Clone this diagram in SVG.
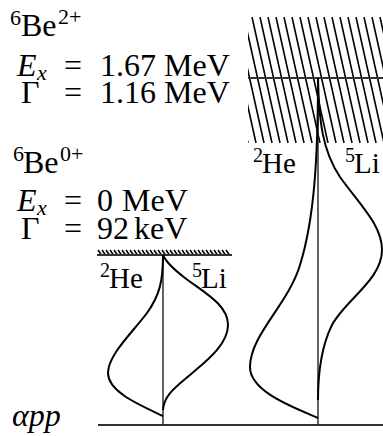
<svg xmlns="http://www.w3.org/2000/svg" width="383" height="436" viewBox="0 0 383 436">
<style>
text{font-family:"Liberation Serif","Times New Roman",serif;fill:#000}
.m{font-size:32px}
.s{font-size:22px}
.i{font-style:italic}
.lb{font-size:29px}
.ls{font-size:20px}
.curve{fill:none;stroke:#000;stroke-width:2}
.vert{fill:none;stroke:#222;stroke-width:1.4}
.hatch{fill:none;stroke:#000;stroke-width:1.6}
.base{fill:none;stroke:#333;stroke-width:2}
</style>
<defs>
<clipPath id="bigclip"><rect x="248" y="17" width="135" height="126"/></clipPath>
</defs>
<g id="text-be2plus">
<text class="s" x="10" y="25">6</text><text class="m" x="21" y="36">Be</text><text class="s" x="58" y="24">2+</text>
<text class="m i" x="17" y="76">E</text><text class="s i" x="37" y="80">x</text><text class="m" x="64" y="76">=</text><text class="m" x="100" y="76">1.67</text><text class="m" x="164" y="76">MeV</text>
<text class="m" x="21" y="103">Γ</text><text class="m" x="64" y="103">=</text><text class="m" x="100" y="103">1.16</text><text class="m" x="164" y="103">MeV</text>
</g>
<g id="text-be0plus">
<text class="s" x="13" y="161">6</text><text class="m" x="23" y="173">Be</text><text class="s" x="60" y="161">0+</text>
<text class="m i" x="17" y="211">E</text><text class="s i" x="37" y="215">x</text><text class="m" x="64" y="211">=</text><text class="m" x="97" y="211">0</text><text class="m" x="122" y="211">MeV</text>
<text class="m" x="21" y="239">Γ</text><text class="m" x="64" y="239">=</text><text class="m" x="97" y="239">92</text><text class="m" x="134" y="239">keV</text>
</g>
<g id="text-app">
<text class="m i" x="12" y="426" font-size="34">αpp</text>
</g>
<g id="level-be0plus">
<path class="hatch" stroke-width="1.2" d="M98,250l3.5,5M102,250l3.5,5M106,250l3.5,5M110,250l3.5,5M114,250l3.5,5M118,250l3.5,5M122,250l3.5,5M126,250l3.5,5M130,250l3.5,5M134,250l3.5,5M138,250l3.5,5M142,250l3.5,5M146,250l3.5,5M150,250l3.5,5M154,250l3.5,5M158,250l3.5,5M162,250l3.5,5M166,250l3.5,5M170,250l3.5,5M174,250l3.5,5M178,250l3.5,5M182,250l3.5,5M186,250l3.5,5M190,250l3.5,5M194,250l3.5,5M198,250l3.5,5M202,250l3.5,5M206,250l3.5,5M210,250l3.5,5M214,250l3.5,5M218,250l3.5,5M222,250l3.5,5M226,250l3.5,5"/>
<line class="base" x1="97" y1="255" x2="232" y2="255"/>
<text class="ls" x="100" y="277">2</text><text class="lb" x="109" y="288">He</text>
<text class="ls" x="192" y="277">5</text><text class="lb" x="201" y="288">Li</text>
</g>
<g id="level-be2plus">
<path class="hatch" clip-path="url(#bigclip)" d="M220,17l28,126M228,17l28,126M236,17l28,126M244,17l28,126M252,17l28,126M260,17l28,126M268,17l28,126M276,17l28,126M284,17l28,126M292,17l28,126M300,17l28,126M308,17l28,126M316,17l28,126M324,17l28,126M332,17l28,126M340,17l28,126M348,17l28,126M356,17l28,126M364,17l28,126M372,17l28,126M380,17l28,126M388,17l28,126"/>
<line class="base" x1="248" y1="78" x2="383" y2="78"/>
<text class="ls" x="253" y="162">2</text><text class="lb" x="262" y="173">He</text>
<text class="ls" x="345" y="162">5</text><text class="lb" x="354" y="173">Li</text>
</g>
<g id="connectors">
<line class="base" x1="98" y1="425" x2="383" y2="425"/>
<line class="vert" x1="163" y1="255" x2="163" y2="425"/>
<line class="vert" x1="318" y1="78" x2="318" y2="425"/>
<path class="curve" d="M163,255 C163,280 160,295 147,313 C132,333 108,355 108,373 C108,392 140,405 163,416"/>
<path class="curve" d="M163,255 C166,262 172,268 185,278 C205,293 228,305 228,325 C228,345 205,362 190,375 C176,387 164,395 163,410"/>
<path class="curve" d="M318,78 C318,160 314,220 300,265 C288,305 250,335 250,367 C250,392 295,408 318,418"/>
<path class="curve" d="M318,78 C319,120 322,150 340,177 C360,205 382,225 382,250 C382,280 345,300 332,325 C322,345 318,370 318,400"/>
</g>
</svg>
